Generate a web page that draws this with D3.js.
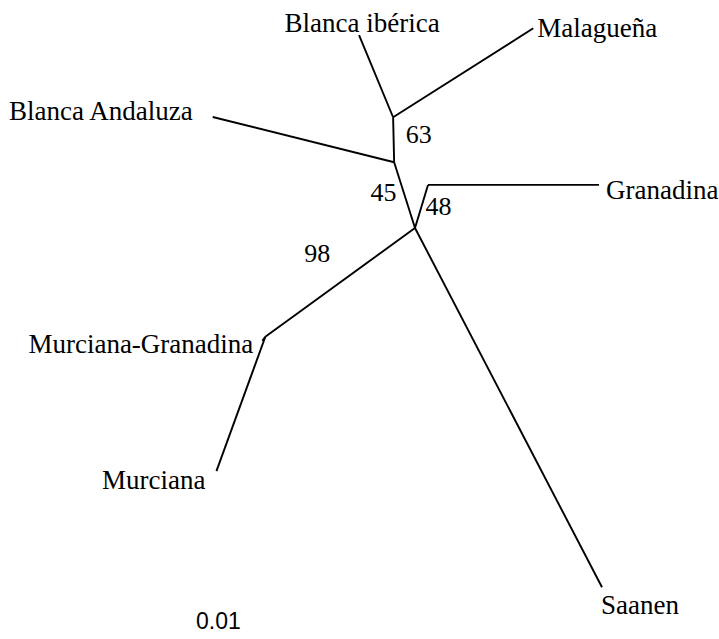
<!DOCTYPE html>
<html>
<head>
<meta charset="utf-8">
<script src="https://cdn.jsdelivr.net/npm/d3@7"></script>
<style>
  html, body { margin: 0; padding: 0; background: #fff; }
  svg { display: block; }
</style>
</head>
<body>
<svg id="chart" width="719" height="639"></svg>
<script>
// Unrooted neighbour-joining tree of goat breeds.
// Each branch: child node, its parent, length (substitutions/site), drawing angle (degrees, counter-clockwise).
const branchChild  = ["B", "A", "Blanca ibérica", "Malagueña", "Blanca Andaluza", "G", "Granadina", "Saanen", "M", "Murciana", "Murciana-Granadina"];
const branchParent = ["C", "B", "A", "A", "B", "C", "G", "C", "C", "M", "M"];
const branchLength = [0.0069, 0.0045, 0.0089, 0.0166, 0.0187, 0.0045, 0.0171, 0.0405, 0.0185, 0.0143, 0.0005];
const branchAngle  = [107.6, 91.3, 112.5, 32.4, 166.0, 73.2, 0, -62.5, -144.0, -110.0, -127.0];

// Bootstrap support (%) on internal branches, keyed by the branch's child node.
const supportNode  = ["A", "B", "G", "M"];
const supportValue = [63, 45, 48, 98];

const scaleLabel = "0.01";

// Label placement (anchor and pixel offset from the tip / branch midpoint).
const tipLabelStyle = {
  "Blanca ibérica":     { anchor: "middle", dx: 3,   dy: -3 },
  "Malagueña":          { anchor: "start",  dx: 4,   dy: 9 },
  "Blanca Andaluza":    { anchor: "end",    dx: -20, dy: 3 },
  "Granadina":          { anchor: "start",  dx: 7,   dy: 14 },
  "Murciana-Granadina": { anchor: "end",    dx: -9,  dy: 12 },
  "Murciana":           { anchor: "end",    dx: -11, dy: 18 },
  "Saanen":             { anchor: "start",  dx: -1,  dy: 27 }
};
const supportStyle = {
  "A": { anchor: "start", dx: 12,  dy: 3 },
  "B": { anchor: "end",   dx: -8,  dy: 6 },
  "G": { anchor: "start", dx: 4,   dy: 9 },
  "M": { anchor: "start", dx: -36, dy: -20 }
};

const width = 719, height = 639;
const svg = d3.select("#chart");

// Build the hierarchy, with the central node "C" as the layout origin.
const rows = [{ id: "C", parentId: null, length: 0, angle: 0 }].concat(
  branchChild.map((id, i) => ({ id, parentId: branchParent[i], length: branchLength[i], angle: branchAngle[i] }))
);
const root = d3.stratify().id(d => d.id).parentId(d => d.parentId)(rows);

// Place every node in tree-distance units by walking out from the centre.
root.each(n => {
  if (!n.parent) { n.ux = 0; n.uy = 0; return; }
  const a = n.data.angle * Math.PI / 180;
  n.ux = n.parent.ux + n.data.length * Math.cos(a);
  n.uy = n.parent.uy + n.data.length * Math.sin(a);
});

// Same pixels-per-unit on both axes so branch lengths stay true.
const x = d3.scaleLinear().domain([-0.0415, 0.0304]).range([0, width]);
const y = d3.scaleLinear().domain([0.0228, -0.0411]).range([0, height]);

const links = root.links();

svg.append("g")
  .selectAll("line")
  .data(links)
  .join("line")
  .attr("x1", d => x(d.source.ux))
  .attr("y1", d => y(d.source.uy))
  .attr("x2", d => x(d.target.ux))
  .attr("y2", d => y(d.target.uy))
  .attr("stroke", "#000")
  .attr("stroke-width", 1.9)
  .attr("stroke-linecap", "butt");

// Tip labels
svg.append("g")
  .selectAll("text")
  .data(root.leaves())
  .join("text")
  .attr("x", d => x(d.ux) + tipLabelStyle[d.id].dx)
  .attr("y", d => y(d.uy) + tipLabelStyle[d.id].dy)
  .attr("text-anchor", d => tipLabelStyle[d.id].anchor)
  .attr("font-family", "'Liberation Serif', 'Times New Roman', serif")
  .attr("font-size", 27)
  .attr("fill", "#000")
  .text(d => d.id);

// Bootstrap values at the middle of their branches
const nodeById = new Map(root.descendants().map(n => [n.id, n]));
svg.append("g")
  .selectAll("text")
  .data(supportNode.map((id, i) => ({ id, value: supportValue[i], node: nodeById.get(id) })))
  .join("text")
  .attr("x", d => x((d.node.ux + d.node.parent.ux) / 2) + supportStyle[d.id].dx)
  .attr("y", d => y((d.node.uy + d.node.parent.uy) / 2) + supportStyle[d.id].dy)
  .attr("text-anchor", d => supportStyle[d.id].anchor)
  .attr("font-family", "'Liberation Serif', 'Times New Roman', serif")
  .attr("font-size", 26)
  .attr("fill", "#000")
  .text(d => d.value);

// Scale caption
svg.append("text")
  .attr("x", 196)
  .attr("y", 629)
  .attr("font-family", "'Liberation Sans', Arial, sans-serif")
  .attr("font-size", 23)
  .attr("fill", "#000")
  .text(scaleLabel);
</script>
</body>
</html>
